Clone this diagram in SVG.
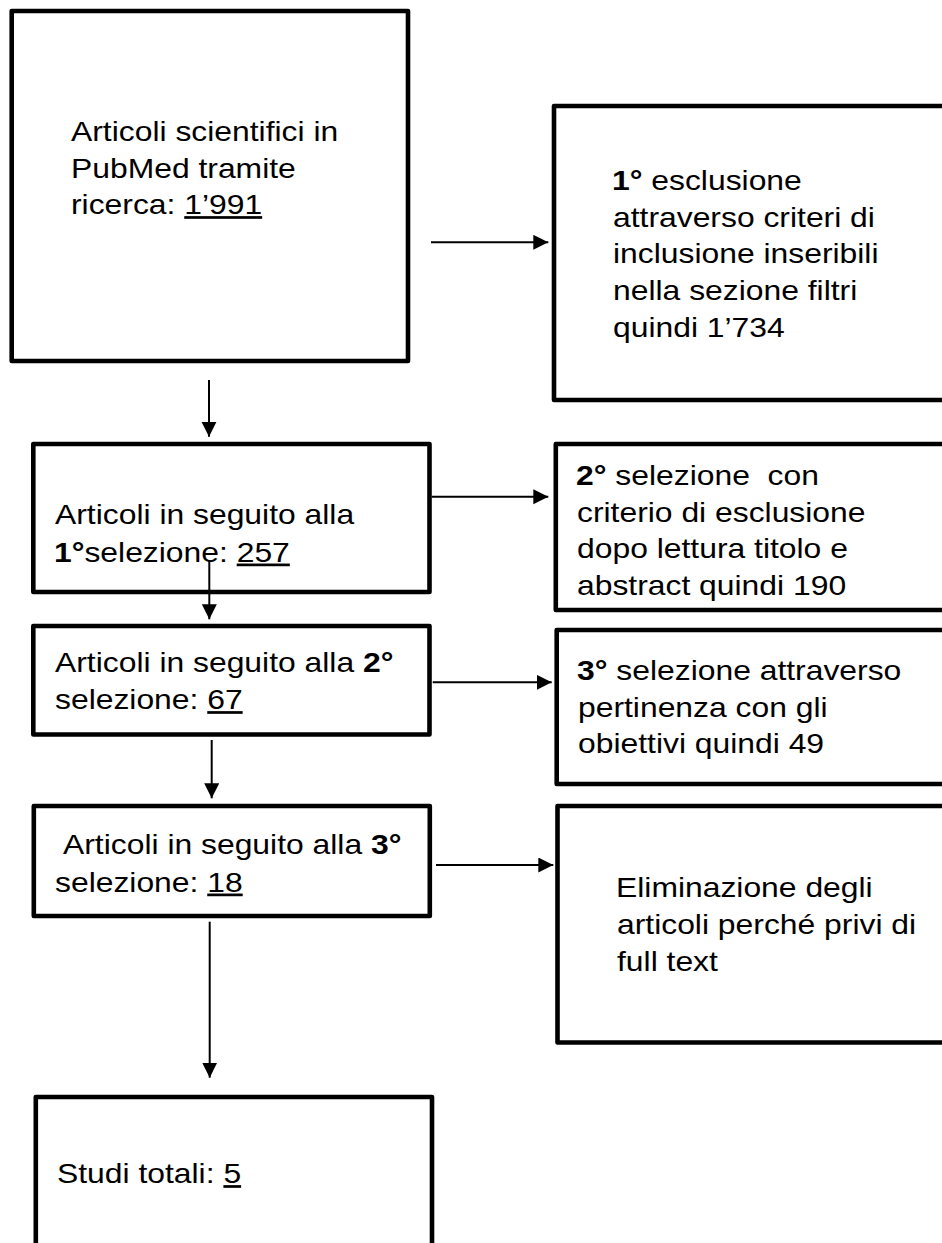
<svg xmlns="http://www.w3.org/2000/svg" width="942" height="1243" viewBox="0 0 942 1243">
<style>
  .box { fill: #ffffff; stroke: #000000; stroke-width: 4.6; stroke-linejoin: round; }
  .t { font-family: "Liberation Sans", Arial, sans-serif; font-size: 27px; fill: #000000; }
  .b { font-weight: bold; }
  .u { text-decoration: underline; }
  .conn { stroke: #000000; stroke-width: 2; fill: none; }
</style>
<defs>
  <marker id="arr" markerUnits="userSpaceOnUse" markerWidth="16" markerHeight="16" refX="15" refY="7.5" orient="auto">
    <path d="M0,0 L15,7.5 L0,15 z" fill="#000000"/>
  </marker>
</defs>
<rect width="942" height="1243" fill="#ffffff"/>

<g id="n1">
  <rect class="box" x="11.7" y="11" width="396.3" height="350"/>
  <text class="t" transform="matrix(1.18 0 0 1 71 140.7)">Articoli scientifici in</text>
  <text class="t" transform="matrix(1.18 0 0 1 71 177.5)">PubMed tramite</text>
  <text class="t" transform="matrix(1.18 0 0 1 71 214.3)">ricerca: <tspan class="u">1’991</tspan></text>
</g>

<g id="n2">
  <rect class="box" x="554" y="106" width="420" height="294"/>
  <text class="t" transform="matrix(1.18 0 0 1 612 190)"><tspan class="b">1°</tspan> esclusione</text>
  <text class="t" transform="matrix(1.18 0 0 1 613 226.7)">attraverso criteri di</text>
  <text class="t" transform="matrix(1.18 0 0 1 613 263.3)">inclusione inseribili</text>
  <text class="t" transform="matrix(1.18 0 0 1 613 300)">nella sezione filtri</text>
  <text class="t" transform="matrix(1.18 0 0 1 613 336.7)">quindi 1’734</text>
</g>

<g id="n3">
  <rect class="box" x="33.3" y="444" width="396.2" height="148"/>
  <text class="t" transform="matrix(1.18 0 0 1 55 524)">Articoli in seguito alla</text>
  <text class="t" transform="matrix(1.18 0 0 1 54 561.7)"><tspan class="b">1°</tspan>selezione: <tspan class="u">257</tspan></text>
</g>

<g id="n4">
  <rect class="box" x="555.8" y="444" width="420" height="166"/>
  <text class="t" xml:space="preserve" transform="matrix(1.18 0 0 1 576 485)"><tspan class="b">2°</tspan> selezione  con</text>
  <text class="t" transform="matrix(1.18 0 0 1 577 521.7)">criterio di esclusione</text>
  <text class="t" transform="matrix(1.18 0 0 1 577 558.3)">dopo lettura titolo e</text>
  <text class="t" transform="matrix(1.18 0 0 1 577 595)">abstract quindi 190</text>
</g>

<g id="n5">
  <rect class="box" x="33.3" y="626" width="396.2" height="108.5"/>
  <text class="t" transform="matrix(1.18 0 0 1 55 672.3)">Articoli in seguito alla <tspan class="b">2°</tspan></text>
  <text class="t" transform="matrix(1.18 0 0 1 55 709.3)">selezione: <tspan class="u">67</tspan></text>
</g>

<g id="n6">
  <rect class="box" x="556.7" y="630" width="420" height="154"/>
  <text class="t" transform="matrix(1.18 0 0 1 577 680)"><tspan class="b">3°</tspan> selezione attraverso</text>
  <text class="t" transform="matrix(1.18 0 0 1 578 716.7)">pertinenza con gli</text>
  <text class="t" transform="matrix(1.18 0 0 1 578 753.3)">obiettivi quindi 49</text>
</g>

<g id="n7">
  <rect class="box" x="33.8" y="806" width="396" height="110"/>
  <text class="t" transform="matrix(1.18 0 0 1 63 854)">Articoli in seguito alla <tspan class="b">3°</tspan></text>
  <text class="t" transform="matrix(1.18 0 0 1 55 891.7)">selezione: <tspan class="u">18</tspan></text>
</g>

<g id="n8">
  <rect class="box" x="557.5" y="806" width="420" height="236.5"/>
  <text class="t" transform="matrix(1.18 0 0 1 616 897.3)">Eliminazione degli</text>
  <text class="t" transform="matrix(1.18 0 0 1 617 934)">articoli perché privi di</text>
  <text class="t" transform="matrix(1.18 0 0 1 617 970.7)">full text</text>
</g>

<g id="n9">
  <rect class="box" x="35.8" y="1097" width="396.2" height="200"/>
  <text class="t" transform="matrix(1.18 0 0 1 57 1183.3)">Studi totali: <tspan class="u">5</tspan></text>
</g>

<g id="connectors">
  <line class="conn" x1="431" y1="242.3" x2="548.3" y2="242.3" marker-end="url(#arr)"/>
  <line class="conn" x1="209" y1="380" x2="209" y2="436.7" marker-end="url(#arr)"/>
  <line class="conn" x1="431.7" y1="496.7" x2="548.3" y2="496.7" marker-end="url(#arr)"/>
  <line class="conn" x1="209.3" y1="560" x2="209.3" y2="619.3" marker-end="url(#arr)"/>
  <line class="conn" x1="432.7" y1="682.3" x2="551.7" y2="682.3" marker-end="url(#arr)"/>
  <line class="conn" x1="211.7" y1="740" x2="211.7" y2="798.3" marker-end="url(#arr)"/>
  <line class="conn" x1="436" y1="865" x2="553.3" y2="865" marker-end="url(#arr)"/>
  <line class="conn" x1="209.7" y1="921.7" x2="209.7" y2="1077.7" marker-end="url(#arr)"/>
</g>
</svg>
